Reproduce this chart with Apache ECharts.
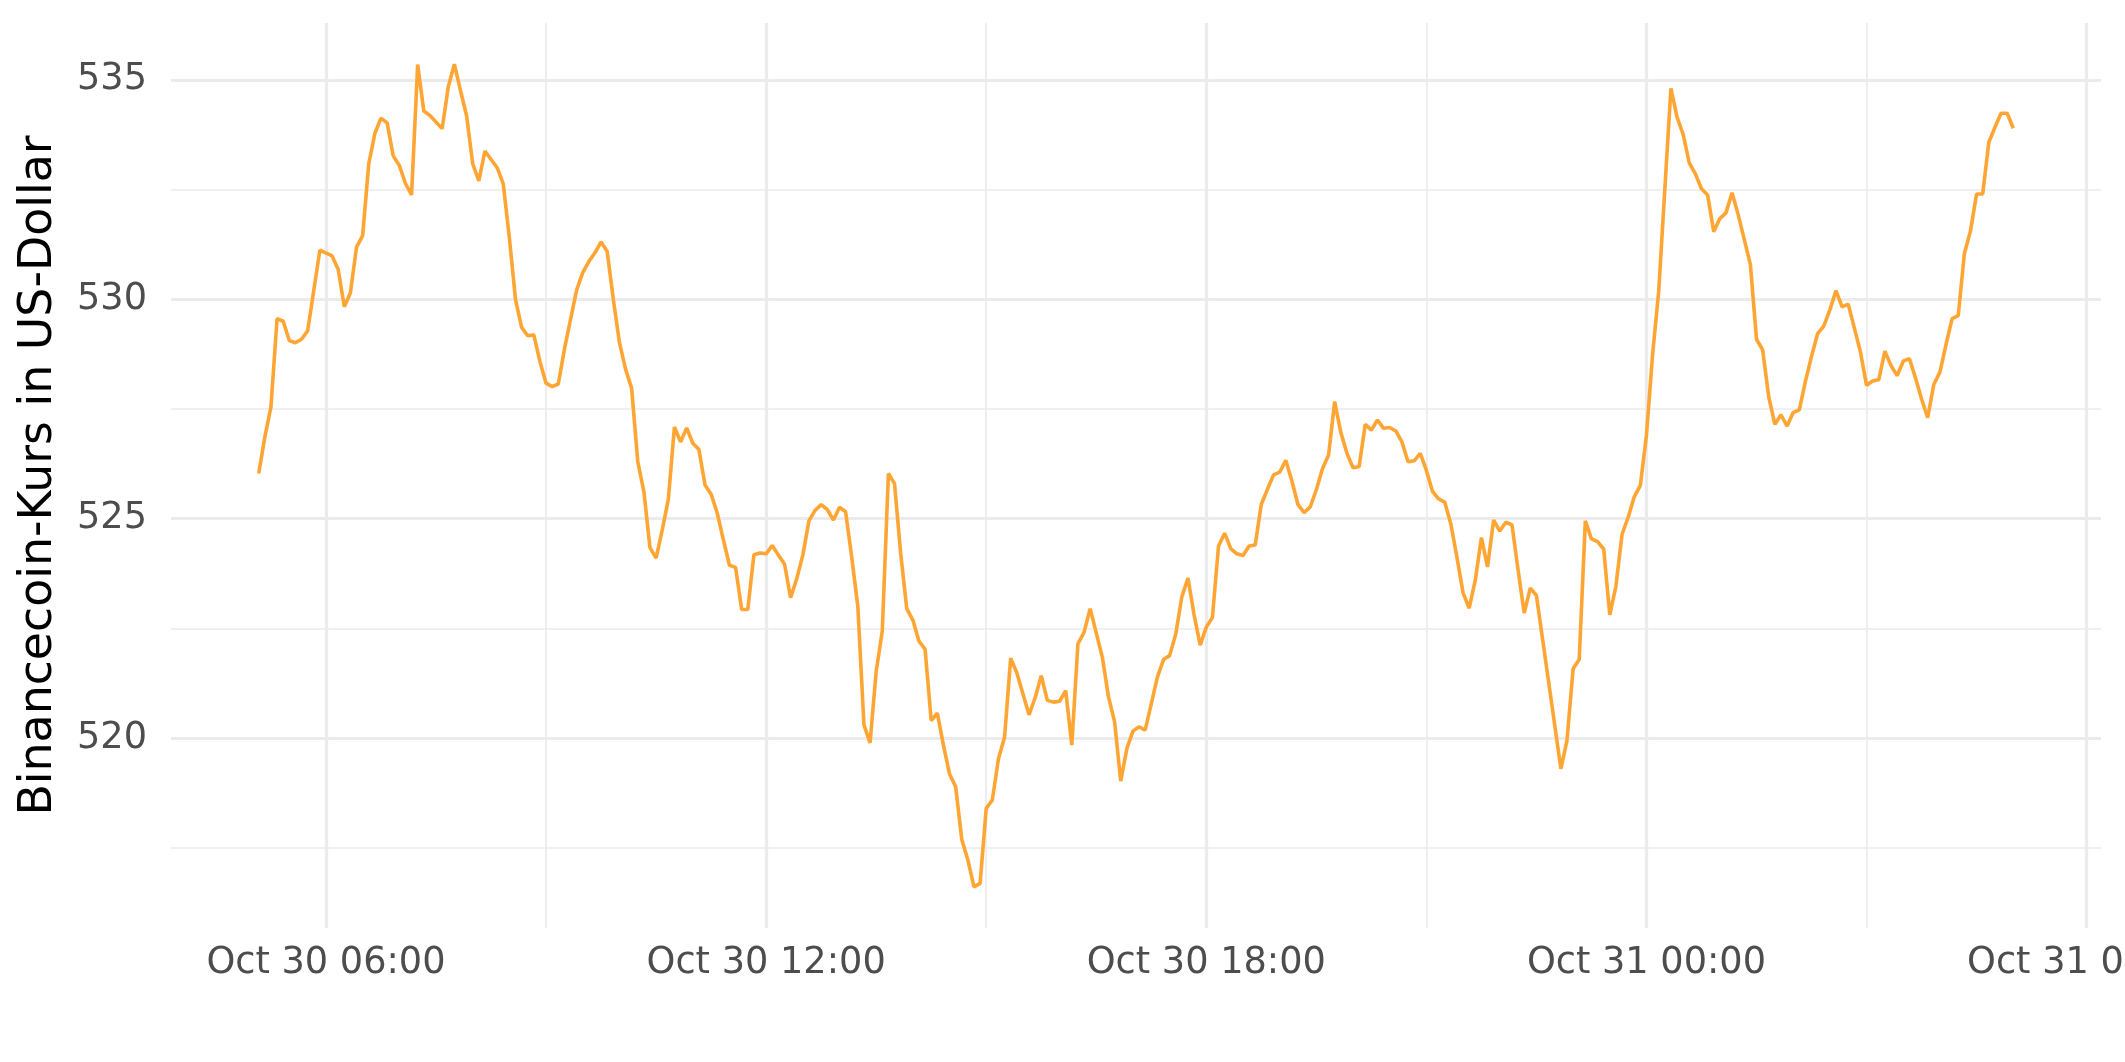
<!DOCTYPE html>
<html>
<head>
<meta charset="utf-8">
<script src="https://cdn.jsdelivr.net/npm/echarts/dist/echarts.min.js"></script>
<style>
html,body{margin:0;padding:0;background:#ffffff;}
#chart{width:2125px;height:1062px;}
</style>
</head>
<body>
<div id="chart"></div>
<script>
// ---- data (5-minute BNB prices in UTC, collinear points omitted) ----
const times = [
'2021-10-30 05:05','2021-10-30 05:10','2021-10-30 05:15','2021-10-30 05:20','2021-10-30 05:25','2021-10-30 05:30','2021-10-30 05:35','2021-10-30 05:40','2021-10-30 05:45','2021-10-30 05:55',
'2021-10-30 06:05','2021-10-30 06:10','2021-10-30 06:15','2021-10-30 06:20','2021-10-30 06:25','2021-10-30 06:30','2021-10-30 06:35','2021-10-30 06:40','2021-10-30 06:45','2021-10-30 06:50',
'2021-10-30 06:55','2021-10-30 07:00','2021-10-30 07:05','2021-10-30 07:10','2021-10-30 07:15','2021-10-30 07:20','2021-10-30 07:25','2021-10-30 07:35','2021-10-30 07:40','2021-10-30 07:45',
'2021-10-30 07:50','2021-10-30 07:55','2021-10-30 08:00','2021-10-30 08:05','2021-10-30 08:10','2021-10-30 08:20','2021-10-30 08:25','2021-10-30 08:30','2021-10-30 08:35','2021-10-30 08:40',
'2021-10-30 08:45','2021-10-30 08:50','2021-10-30 08:55','2021-10-30 09:00','2021-10-30 09:05','2021-10-30 09:10','2021-10-30 09:15','2021-10-30 09:20','2021-10-30 09:25','2021-10-30 09:30',
'2021-10-30 09:35','2021-10-30 09:40','2021-10-30 09:45','2021-10-30 09:50','2021-10-30 09:55','2021-10-30 10:00','2021-10-30 10:05','2021-10-30 10:10','2021-10-30 10:15','2021-10-30 10:20',
'2021-10-30 10:25','2021-10-30 10:30','2021-10-30 10:35','2021-10-30 10:40','2021-10-30 10:45','2021-10-30 10:50','2021-10-30 10:55','2021-10-30 11:00','2021-10-30 11:05','2021-10-30 11:10',
'2021-10-30 11:15','2021-10-30 11:20','2021-10-30 11:25','2021-10-30 11:30','2021-10-30 11:35','2021-10-30 11:40','2021-10-30 11:45','2021-10-30 11:50','2021-10-30 11:55','2021-10-30 12:00',
'2021-10-30 12:05','2021-10-30 12:10','2021-10-30 12:15','2021-10-30 12:20','2021-10-30 12:25','2021-10-30 12:30','2021-10-30 12:35','2021-10-30 12:40','2021-10-30 12:45','2021-10-30 12:50',
'2021-10-30 12:55','2021-10-30 13:00','2021-10-30 13:05','2021-10-30 13:10','2021-10-30 13:15','2021-10-30 13:20','2021-10-30 13:25','2021-10-30 13:30','2021-10-30 13:35','2021-10-30 13:40',
'2021-10-30 13:45','2021-10-30 13:50','2021-10-30 13:55','2021-10-30 14:00','2021-10-30 14:05','2021-10-30 14:10','2021-10-30 14:15','2021-10-30 14:20','2021-10-30 14:25','2021-10-30 14:30',
'2021-10-30 14:35','2021-10-30 14:40','2021-10-30 14:45','2021-10-30 14:50','2021-10-30 14:55','2021-10-30 15:00','2021-10-30 15:05','2021-10-30 15:10','2021-10-30 15:15','2021-10-30 15:20',
'2021-10-30 15:25','2021-10-30 15:35','2021-10-30 15:40','2021-10-30 15:45','2021-10-30 15:50','2021-10-30 15:55','2021-10-30 16:00','2021-10-30 16:05','2021-10-30 16:10','2021-10-30 16:15',
'2021-10-30 16:20','2021-10-30 16:25','2021-10-30 16:35','2021-10-30 16:40','2021-10-30 16:45','2021-10-30 16:50','2021-10-30 16:55','2021-10-30 17:00','2021-10-30 17:05','2021-10-30 17:10',
'2021-10-30 17:15','2021-10-30 17:20','2021-10-30 17:25','2021-10-30 17:30','2021-10-30 17:35','2021-10-30 17:40','2021-10-30 17:45','2021-10-30 17:50','2021-10-30 17:55','2021-10-30 18:00',
'2021-10-30 18:05','2021-10-30 18:10','2021-10-30 18:15','2021-10-30 18:20','2021-10-30 18:25','2021-10-30 18:30','2021-10-30 18:35','2021-10-30 18:40','2021-10-30 18:45','2021-10-30 18:50',
'2021-10-30 18:55','2021-10-30 19:00','2021-10-30 19:05','2021-10-30 19:10','2021-10-30 19:15','2021-10-30 19:20','2021-10-30 19:25','2021-10-30 19:30','2021-10-30 19:35','2021-10-30 19:40',
'2021-10-30 19:45','2021-10-30 19:50','2021-10-30 19:55','2021-10-30 20:00','2021-10-30 20:05','2021-10-30 20:10','2021-10-30 20:15','2021-10-30 20:20','2021-10-30 20:25','2021-10-30 20:30',
'2021-10-30 20:35','2021-10-30 20:40','2021-10-30 20:45','2021-10-30 20:50','2021-10-30 20:55','2021-10-30 21:00','2021-10-30 21:05','2021-10-30 21:10','2021-10-30 21:15','2021-10-30 21:20',
'2021-10-30 21:25','2021-10-30 21:30','2021-10-30 21:35','2021-10-30 21:40','2021-10-30 21:45','2021-10-30 21:50','2021-10-30 21:55','2021-10-30 22:00','2021-10-30 22:05','2021-10-30 22:10',
'2021-10-30 22:15','2021-10-30 22:20','2021-10-30 22:25','2021-10-30 22:30','2021-10-30 22:50','2021-10-30 22:55','2021-10-30 23:00','2021-10-30 23:05','2021-10-30 23:10','2021-10-30 23:15',
'2021-10-30 23:20','2021-10-30 23:25','2021-10-30 23:30','2021-10-30 23:35','2021-10-30 23:40','2021-10-30 23:45','2021-10-30 23:50','2021-10-30 23:55','2021-10-31 00:00','2021-10-31 00:05',
'2021-10-31 00:10','2021-10-31 00:15','2021-10-31 00:20','2021-10-31 00:25','2021-10-31 00:30','2021-10-31 00:35','2021-10-31 00:40','2021-10-31 00:45','2021-10-31 00:50','2021-10-31 00:55',
'2021-10-31 01:00','2021-10-31 01:05','2021-10-31 01:10','2021-10-31 01:15','2021-10-31 01:25','2021-10-31 01:30','2021-10-31 01:35','2021-10-31 01:40','2021-10-31 01:45','2021-10-31 01:50',
'2021-10-31 01:55','2021-10-31 02:00','2021-10-31 02:05','2021-10-31 02:10','2021-10-31 02:15','2021-10-31 02:20','2021-10-31 02:25','2021-10-31 02:30','2021-10-31 02:35','2021-10-31 02:40',
'2021-10-31 02:45','2021-10-31 02:50','2021-10-31 02:55','2021-10-31 03:00','2021-10-31 03:05','2021-10-31 03:10','2021-10-31 03:15','2021-10-31 03:20','2021-10-31 03:25','2021-10-31 03:30',
'2021-10-31 03:35','2021-10-31 03:40','2021-10-31 03:45','2021-10-31 03:50','2021-10-31 03:55','2021-10-31 04:00','2021-10-31 04:05','2021-10-31 04:10','2021-10-31 04:15','2021-10-31 04:20',
'2021-10-31 04:25','2021-10-31 04:30','2021-10-31 04:35','2021-10-31 04:40','2021-10-31 04:45','2021-10-31 04:50','2021-10-31 04:55','2021-10-31 05:00'
];
const prices = [
526.03,526.86,527.55,529.56,529.50,529.06,529.01,529.09,529.28,531.12,
530.99,530.68,529.83,530.15,531.19,531.45,533.09,533.78,534.13,534.02,
533.27,533.05,532.64,532.38,535.35,534.29,534.19,533.89,534.84,535.36,
534.76,534.19,533.09,532.70,533.38,533.00,532.63,531.40,530.00,529.36,
529.17,529.19,528.58,528.09,528.01,528.07,528.86,529.54,530.21,530.61,
530.86,531.06,531.31,531.09,530.00,529.02,528.41,527.97,526.30,525.62,
524.34,524.10,524.74,525.44,527.09,526.75,527.07,526.72,526.58,525.77,
525.56,525.13,524.52,523.94,523.89,522.93,522.93,524.18,524.22,524.20,
524.39,524.17,523.97,523.20,523.63,524.17,524.95,525.19,525.32,525.21,
524.97,525.26,525.16,524.12,523.00,520.30,519.89,521.52,522.44,526.03,
525.80,524.22,522.95,522.69,522.21,522.03,520.40,520.57,519.84,519.18,
518.89,517.69,517.22,516.61,516.69,518.40,518.59,519.53,520.02,521.82,
521.49,520.53,520.92,521.42,520.86,520.82,520.84,521.08,519.84,522.15,
522.41,522.95,521.84,520.94,520.37,519.02,519.76,520.16,520.26,520.18,
520.78,521.39,521.79,521.88,522.37,523.22,523.65,522.81,522.12,522.53,
522.75,524.38,524.67,524.32,524.20,524.16,524.38,524.40,525.33,525.67,
526.00,526.06,526.33,525.86,525.32,525.14,525.27,525.66,526.14,526.45,
527.67,526.97,526.49,526.16,526.19,527.15,527.02,527.25,527.06,527.08,
527.00,526.75,526.30,526.32,526.49,526.10,525.62,525.45,525.38,524.88,
524.12,523.31,522.96,523.60,524.57,523.90,524.97,524.72,524.92,524.86,
523.83,522.85,523.42,523.25,519.30,519.95,521.58,521.79,524.95,524.54,
524.48,524.31,522.81,523.46,524.64,525.03,525.50,525.76,526.91,528.74,
530.18,532.50,534.81,534.15,533.76,533.11,532.86,532.52,532.38,531.54,
531.84,531.97,532.43,531.93,530.79,529.09,528.85,527.78,527.15,527.37,
527.11,527.42,527.48,528.13,528.70,529.22,529.39,529.76,530.20,529.83,
529.89,529.35,528.80,528.04,528.14,528.17,528.82,528.49,528.26,528.59,
528.65,528.21,527.73,527.30,528.06,528.34,528.97,529.56,529.63,531.04,
531.56,532.40,532.40,533.58,533.92,534.24,534.24,533.90
];
const xMajorTicks = ['2021-10-30 06:00','2021-10-30 12:00','2021-10-30 18:00','2021-10-31 00:00','2021-10-31 06:00'];
const xMinorTicks = ['2021-10-30 09:00','2021-10-30 15:00','2021-10-30 21:00','2021-10-31 03:00'];
const yMajorTicks = [520, 525, 530, 535];
const yMinorTicks = [517.5, 522.5, 527.5, 532.5];
const yTitle = 'Binancecoin-Kurs in US-Dollar';
const monthNames = ['Jan','Feb','Mar','Apr','May','Jun','Jul','Aug','Sep','Oct','Nov','Dec'];

// ---- helpers (all times in UTC, no daylight-saving jumps) ----
function toMs(s) {
  const m = s.match(/(\d+)-(\d+)-(\d+) (\d+):(\d+)/);
  return Date.UTC(+m[1], +m[2] - 1, +m[3], +m[4], +m[5]);
}
function pad(n) { return (n < 10 ? '0' : '') + n; }
function fmtTime(v) {
  const d = new Date(v);
  return monthNames[d.getUTCMonth()] + ' ' + d.getUTCDate() + ' ' + pad(d.getUTCHours()) + ':' + pad(d.getUTCMinutes());
}

const seriesData = times.map((t, i) => [toMs(t), prices[i]]);
const tMin = seriesData[0][0], tMax = seriesData[seriesData.length - 1][0];
const vMin = Math.min(...prices), vMax = Math.max(...prices);
const xPad = (tMax - tMin) * 0.05, yPad = (vMax - vMin) * 0.05;
const xLo = tMin - xPad, xHi = tMax + xPad;
const yLo = vMin - yPad, yHi = vMax + yPad;

const FONT = 'DejaVu Sans';
const GRID = '#EBEBEB';

const chart = echarts.init(document.getElementById('chart'), null, {renderer: 'canvas'});
chart.setOption({
  animation: false,
  backgroundColor: '#ffffff',
  grid: {left: 171, right: 24, top: 23, bottom: 134, containLabel: false, outerBoundsMode: 'none'},
  xAxis: [
    {
      type: 'value', min: xLo, max: xHi, position: 'bottom',
      axisLine: {show: false},
      axisTick: {show: false, customValues: xMajorTicks.map(toMs)},
      axisLabel: {
        customValues: xMajorTicks.map(toMs),
        formatter: fmtTime,
        fontFamily: FONT, fontSize: 36.7, color: '#4D4D4D', margin: 17,
        showMinLabel: true, showMaxLabel: true
      },
      splitLine: {show: true, lineStyle: {color: GRID, width: 3.2}}
    },
    {
      type: 'value', min: xLo, max: xHi, position: 'bottom',
      axisLine: {show: false},
      axisTick: {show: false, customValues: xMinorTicks.map(toMs)},
      axisLabel: {show: false, customValues: xMinorTicks.map(toMs)},
      splitLine: {show: true, lineStyle: {color: GRID, width: 1.7}}
    }
  ],
  yAxis: [
    {
      type: 'value', min: yLo, max: yHi, position: 'left',
      name: yTitle, nameLocation: 'middle', nameGap: 109, nameRotate: 90,
      nameTextStyle: {fontFamily: FONT, fontSize: 45.8, color: '#000000'},
      axisLine: {show: false},
      axisTick: {show: false, customValues: yMajorTicks},
      axisLabel: {customValues: yMajorTicks, fontFamily: FONT, fontSize: 36.7, color: '#4D4D4D', margin: 24},
      splitLine: {show: true, lineStyle: {color: GRID, width: 3.2}}
    },
    {
      type: 'value', min: yLo, max: yHi, position: 'left',
      axisLine: {show: false},
      axisTick: {show: false, customValues: yMinorTicks},
      axisLabel: {show: false, customValues: yMinorTicks},
      splitLine: {show: true, lineStyle: {color: GRID, width: 1.7}}
    }
  ],
  series: [
    {
      type: 'line',
      xAxisIndex: 0, yAxisIndex: 0,
      data: seriesData,
      showSymbol: false, symbol: 'none',
      lineStyle: {color: '#FFA533', width: 3.6},
      z: 5
    }
  ]
});
</script>
</body>
</html>
